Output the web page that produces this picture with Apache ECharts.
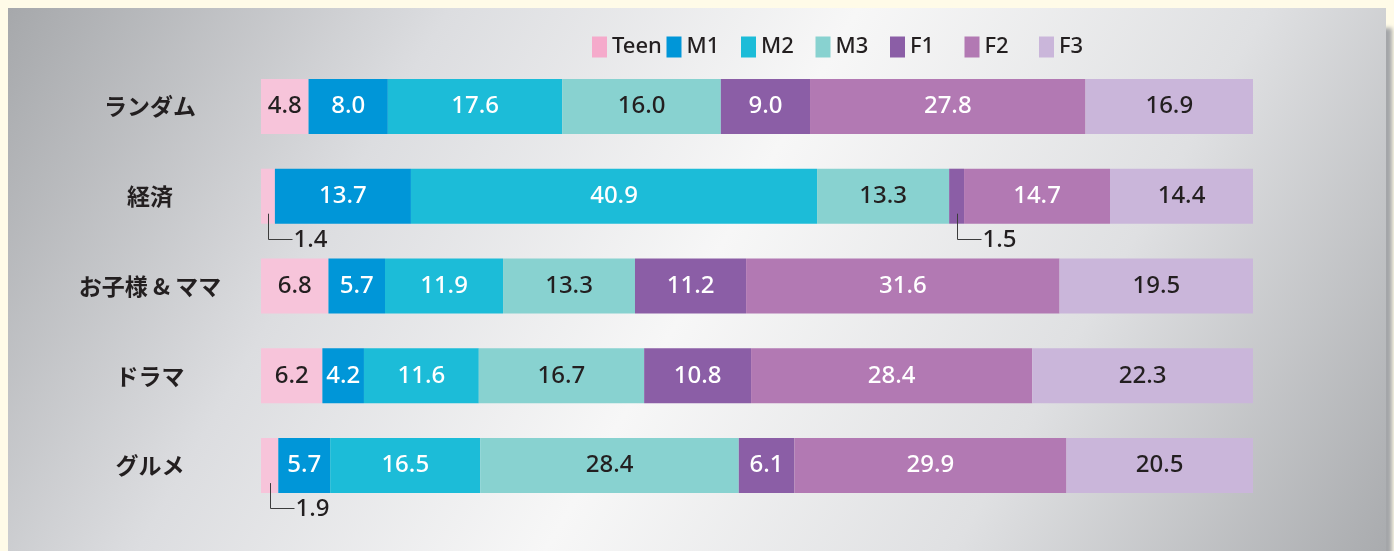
<!DOCTYPE html>
<html lang="ja">
<head>
<meta charset="utf-8">
<title>Segment share</title>
<script src="https://cdn.jsdelivr.net/npm/echarts@6/dist/echarts.min.js"></script>
<style>
  html, body { margin: 0; padding: 0; width: 1394px; height: 551px; overflow: hidden; background: #fffbe8; }
  #panel {
    position: absolute; left: 8px; top: 8px; width: 1378px; height: 560px;
    background: linear-gradient(120deg, #a6a8ab 0%, #dcdde0 26%, #f7f7f7 50%, #dfe0e2 74%, #a8aaad 100%);
    box-shadow: 8px 18px 4px -2px #a4a6a9;
  }
  #chart { position: absolute; left: 0; top: 0; width: 1394px; height: 551px; }
</style>
</head>
<body>
<div id="panel"></div>
<div id="chart"></div>
<script>
const categories = ['ランダム', '経済', 'お子様 & ママ', 'ドラマ', 'グルメ']
const seriesNames = ['Teen', 'M1', 'M2', 'M3', 'F1', 'F2', 'F3']

const teen = [4.8, 1.4, 6.8, 6.2, 1.9]
const m1 = [8.0, 13.7, 5.7, 4.2, 5.7]
const m2 = [17.6, 40.9, 11.9, 11.6, 16.5]
const m3 = [16.0, 13.3, 13.3, 16.7, 28.4]
const f1 = [9.0, 1.5, 11.2, 10.8, 6.1]
const f2 = [27.8, 14.7, 31.6, 28.4, 29.9]
const f3 = [16.9, 14.4, 19.5, 22.3, 20.5]

const values = [teen, m1, m2, m3, f1, f2, f3]
const colors = ['#f7c4da', '#0096d8', '#1cbcd8', '#88d2d0', '#8b5ea6', '#b279b3', '#cab6da']
const labelColors = ['#231f20', '#fff', '#fff', '#231f20', '#fff', '#fff', '#231f20']

// values too thin for an inside label get a callout below the bar
const SMALL = 2
const BAR_W = 55

// each row is stretched to full width, so plot the share of the row sum
const rowSums = categories.map((c, i) => values.reduce((s, arr) => s + arr[i], 0))
const shares = values.map(arr => arr.map((v, i) => v / rowSums[i] * 100))

const callouts = []
categories.forEach((c, i) => {
  let acc = 0
  values.forEach((arr, s) => {
    if (arr[i] < SMALL) {
      callouts.push([i, acc + shares[s][i] / 2, arr[i]])
    }
    acc += shares[s][i]
  })
})

const numFont = '"Noto Sans", "Open Sans", sans-serif'

const chart = echarts.init(document.getElementById('chart'))

const barSeries = seriesNames.map((name, s) => ({
  name: name,
  type: 'bar',
  stack: 'total',
  barWidth: BAR_W,
  itemStyle: { color: colors[s] },
  label: {
    show: true,
    position: 'inside',
    color: labelColors[s],
    fontFamily: numFont,
    fontSize: 24,
    fontWeight: 500,
    formatter: p => {
      const v = values[s][p.dataIndex]
      return v < SMALL ? '' : v.toFixed(1)
    },
  },
  data: shares[s],
}))

// one legend per item so the items sit on an even pitch
const legends = seriesNames.map((n, s) => ({
  left: 592 + 74.5 * s,
  top: 36,
  padding: 0,
  itemWidth: 15,
  itemHeight: 21,
  icon: 'rect',
  textStyle: {
    color: '#231f20',
    fontFamily: numFont,
    fontSize: 22,
    fontWeight: 500,
  },
  data: [s === 0 ? { name: n, itemStyle: { color: '#f5aacb' } } : n],
}))

chart.setOption({
  animation: false,
  backgroundColor: 'transparent',
  legend: legends,
  grid: {
    left: 261,
    right: 141,
    top: 61.5,
    bottom: 40.5,
  },
  xAxis: {
    type: 'value',
    min: 0,
    max: 100,
    show: false,
  },
  yAxis: {
    type: 'category',
    inverse: true,
    data: categories,
    axisLine: { show: false },
    axisTick: { show: false },
    axisLabel: {
      margin: 111,
      align: 'center',
      color: '#231f20',
      fontFamily: '"Noto Sans CJK JP", sans-serif',
      fontSize: 23,
      fontWeight: 'bold',
    },
  },
  series: barSeries.concat([{
    type: 'custom',
    coordinateSystem: 'cartesian2d',
    z: 10,
    clip: false,
    silent: true,
    encode: { x: 1, y: 0 },
    renderItem: (params, api) => {
      const pt = api.coord([api.value(1), api.value(0)])
      const bottom = pt[1] + BAR_W / 2
      const x = Math.round(pt[0]) + 0.5
      const y = Math.round(bottom + 15) + 0.5
      return {
        type: 'group',
        children: [
          {
            type: 'polyline',
            shape: { points: [[x, bottom - 10], [x, y], [x + 24, y]] },
            style: { stroke: '#3c3c3c', lineWidth: 1, fill: null },
          },
          {
            type: 'text',
            style: {
              x: x + 25,
              y: y + 1,
              text: api.value(2).toFixed(1),
              fill: '#231f20',
              font: '500 24px ' + numFont,
              align: 'left',
              verticalAlign: 'middle',
            },
          },
        ],
      }
    },
    data: callouts,
  }]),
})

window.addEventListener('resize', () => chart.resize())
</script>
</body>
</html>
